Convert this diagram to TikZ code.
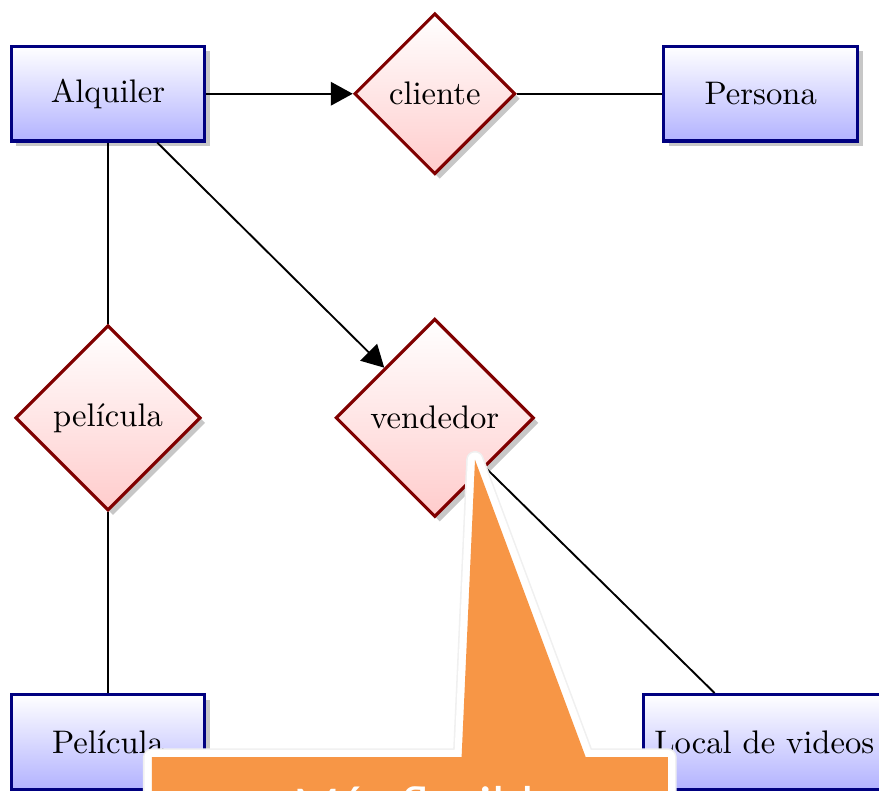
\documentclass[tikz,border=0pt]{standalone}
\usepackage{fontspec}
\newfontfamily\carlito{Carlito}
\usetikzlibrary{shapes.geometric,shadows,arrows.meta}
\definecolor{naranja}{HTML}{F79646}
\begin{document}
\begin{tikzpicture}[>={Triangle[length=7pt,width=7.5pt]},font=\fontsize{10.4}{12.5}\selectfont,
	sombra/.style={drop shadow={shadow xshift=1.6pt,shadow yshift=-1.6pt,fill=black!22,opacity=1}},
	entidad/.style={rectangle,draw=blue!50!black,line width=1pt,top color=white,bottom color=blue!30,minimum width=2.17cm,minimum height=1.06cm,sombra},
	relacion/.style={diamond,aspect=1,draw=red!50!black,line width=1pt,top color=white,bottom color=red!20,inner sep=3.7pt,sombra}]
	\useasboundingbox (0,0) rectangle (9.845,-8.859);
	\clip (0,0) rectangle (9.845,-8.859);
	\node[entidad] (alquiler) at (1.21,-1.05) {Alquiler};
	\node[relacion] (cliente) at (4.87,-1.05) {cliente};
	\node[entidad] (persona) at (8.52,-1.05) {Persona};
	\node[relacion] (pelicularel) at (1.21,-4.68) {película};
	\node[relacion] (vendedor) at (4.87,-4.68) {vendedor};
	\node[entidad] (pelicula) at (1.21,-8.31) {Película};
	\node[entidad] (local) at (8.56,-8.31) {Local de videos};
	\draw[->,semithick] (alquiler) -- (cliente);
	\draw[semithick] (cliente) -- (persona);
	\draw[semithick] (alquiler) -- (pelicularel);
	\draw[->,semithick] (alquiler) -- (vendedor);
	\draw[semithick] (pelicularel) -- (pelicula);
	\draw[semithick] (vendedor) -- (local);
	% nota
	\draw[black!6,line width=5.6pt,line join=round] (1.70,-9.8) -- (1.70,-8.48) -- (5.17,-8.48) -- (5.32,-5.15) -- (6.56,-8.48) -- (7.48,-8.48) -- (7.48,-9.8) -- cycle;
	\filldraw[draw=white,fill=naranja,line width=4.6pt,line join=round] (1.70,-9.8) -- (1.70,-8.48) -- (5.17,-8.48) -- (5.32,-5.15) -- (6.56,-8.48) -- (7.48,-8.48) -- (7.48,-9.8) -- cycle;
	\fill[naranja] (1.70,-9.8) -- (1.70,-8.48) -- (5.17,-8.48) -- (5.32,-5.15) -- (6.56,-8.48) -- (7.48,-8.48) -- (7.48,-9.8) -- cycle;
	\node[anchor=base west,text=white,inner sep=0pt,font=\carlito\fontsize{17.5}{21}\selectfont] (nota) at (3.28,-9.23) {Más flexible};
\end{tikzpicture}
\end{document}
